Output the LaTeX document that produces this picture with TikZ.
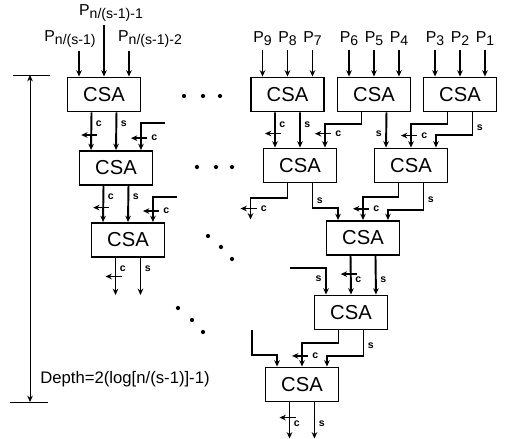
\documentclass[tikz,border=0pt]{standalone}
\usepackage{fontspec}
\setmainfont{Liberation Sans}
\usetikzlibrary{arrows.meta, positioning, calc}

\newcommand{\psub}[1]{\raisebox{-0.35ex}{\fontsize{8}{8}\selectfont #1}}

\begin{document}
\begin{tikzpicture}[
    x=0.02cm, y=-0.02cm,
    >={Stealth[length=3.6pt,width=3.2pt]},
    csa/.style={rectangle, draw, line width=1.1pt, minimum width=1.46cm, minimum height=0.68cm, inner sep=0pt, font=\fontsize{11.5}{12}\selectfont},
    arrow/.style={line width=1.1pt,->},
    carry/.style={line width=0.9pt,->},
    dim/.style={line width=0.5pt,<->},
    lbl/.style={font=\bfseries\fontsize{6}{6}\selectfont, inner sep=0pt},
    plabel/.style={font=\fontsize{9}{9}\selectfont, inner sep=2pt}
]
\useasboundingbox (0,0) rectangle (508,439);

% left column
\node [csa] (l1) at (104,94.5) {CSA};
\node [csa] (l2) at (116,168) {CSA};
\node [csa] (l3) at (128,240) {CSA};
% right tree
\node [csa] (r1a) at (287.5,94.5) {CSA};
\node [csa] (r1b) at (374,94.5) {CSA};
\node [csa] (r1c) at (460,94.5) {CSA};
\node [csa] (r2a) at (300,165.5) {CSA};
\node [csa] (r2b) at (411,165.5) {CSA};
\node [csa] (r3) at (363,238) {CSA};
\node [csa] (r4) at (351,312.5) {CSA};
\node [csa] (r5) at (302,384.5) {CSA};

\foreach \b in {l1,l2,l3,r1a,r1b,r1c,r2a,r2b,r3,r4,r5}{
    \coordinate (\b-i1) at ($(\b.north west)!1/6!(\b.north east)$);
    \coordinate (\b-i2) at (\b.north);
    \coordinate (\b-i3) at ($(\b.north west)!5/6!(\b.north east)$);
    \coordinate (\b-o1) at ($(\b.south west)!1/3!(\b.south east)$);
    \coordinate (\b-o2) at ($(\b.south west)!2/3!(\b.south east)$);
}

% inputs
\node [plabel] (pn) at (70,39) {P\psub{n/(s-1)}};
\node [plabel] (pn1) at (111,13) {P\psub{n/(s-1)-1}};
\node [plabel] (pn2) at (150,39) {P\psub{n/(s-1)-2}};
\draw [arrow] (pn.south -| l1-i1) -- (l1-i1);
\draw [arrow] (pn1.south -| l1-i2) -- (l1-i2);
\draw [arrow] (pn2.south -| l1-i3) -- (l1-i3);
\foreach \b/\n/\i in {r1a/9/1,r1a/8/2,r1a/7/3,r1b/6/1,r1b/5/2,r1b/4/3,r1c/3/1,r1c/2/2,r1c/1/3}{
    \node [plabel, anchor=south] (p\n) at ($(\b-i\i)+(0,-27)$) {P\psub{\n}};
    \draw [arrow] (p\n) -- (\b-i\i);
}

% free ends
\coordinate (f1) at (165,123);
\coordinate (f2) at (177,197);
\coordinate (f3) at (290,268);
\coordinate (f4) at (252,330);
\coordinate (l3-c) at ($(l3-o1)+(0,37)$);
\coordinate (l3-s) at ($(l3-o2)+(0,37)$);
\coordinate (r2a-c) at ($(r2a-o1)+(-37,36)$);
\coordinate (r5-c) at ($(r5-o1)+(0,36)$);
\coordinate (r5-s) at ($(r5-o2)+(0,36)$);

% left column wiring
\draw [arrow] (l1-o1) -- node[lbl, pos=.3, right=2pt] {c} coordinate[pos=.6] (k1) (l2-i1);
\draw [arrow] (l1-o2) -- node[lbl, pos=.3, right=2pt] {s} (l2-i2);
\draw [arrow] (f1) -| coordinate[pos=.78] (k2) (l2-i3);
\draw [arrow] (l2-o1) -- node[lbl, pos=.3, right=2pt] {c} coordinate[pos=.6] (k3) (l3-i1);
\draw [arrow] (l2-o2) -- node[lbl, pos=.3, right=2pt] {s} (l3-i2);
\draw [arrow] (f2) -| coordinate[pos=.78] (k4) (l3-i3);
\draw [arrow] (l3-o1) -- node[lbl, pos=.3, right=2pt] {c} coordinate[pos=.5] (k5) (l3-c);
\draw [arrow] (l3-o2) -- node[lbl, pos=.3, right=2pt] {s} (l3-s);

% right tree wiring
\draw [arrow] (r1a-o1) -- node[lbl, pos=.35, right=2pt] {c} coordinate[pos=.6] (k6) (r2a-i1);
\draw [arrow] (r1a-o2) -- node[lbl, pos=.35, right=2pt] {s} (r2a-i2);
\draw [arrow] (r1b-o1) -- ++(0,12) -| coordinate[pos=.7] (k7) (r2a-i3);
\draw [arrow] (r1b-o2) -- node[lbl, pos=.6, left=2pt] {s} (r2b-i1);
\draw [arrow] (r1c-o1) -- ++(0,12) -| coordinate[pos=.74] (k8) (r2b-i2);
\draw [arrow] (r1c-o2) -- node[lbl, pos=.65, right=2pt] {s} ++(0,23) -| (r2b-i3);

\draw [arrow] (r2a-o1) -- ++(0,15) -| coordinate[pos=.74] (k9) (r2a-c);
\draw [arrow] (r2a-o2) -- node[lbl, pos=.7, right=2pt] {s} ++(0,25) -| (r3-i1);
\draw [arrow] (r2b-o1) -- ++(0,14) -| coordinate[pos=.75] (k10) (r3-i2);
\draw [arrow] (r2b-o2) -- node[lbl, pos=.6, right=2pt] {s} ++(0,27) -| (r3-i3);

\draw [arrow] (r3-o1) -- node[lbl, pos=.62, right=2pt] {c} coordinate[pos=.47] (k11) (r4-i2);
\draw [arrow] (r3-o2) -- node[lbl, pos=.62, right=2pt] {s} (r4-i3);
\draw [arrow] (f3) -| node[lbl, pos=.7, left=2pt] {s} (r4-i1);

\draw [arrow] (r4-o1) -- ++(0,13) -| coordinate[pos=.77] (k12) (r5-i2);
\draw [arrow] (r4-o2) -- node[lbl, pos=.6, right=2pt] {s} ++(0,26) -| (r5-i3);
\draw [arrow] (f4) -- ++(0,25) -| (r5-i1);

\draw [arrow] (r5-o1) -- node[lbl, pos=.6, right=2pt] {c} coordinate[pos=.42] (k13) (r5-c);
\draw [arrow] (r5-o2) -- node[lbl, pos=.6, right=2pt] {s} (r5-s);

% carry ticks
\foreach \k in {k1,k3,k5,k6,k11,k13}
    \draw [carry] (\k) ++(6,0) -- ++(-16,0);
\foreach \k in {k2,k4,k7,k8,k9,k10,k12}
    \draw [carry] (\k) ++(6,0) node[lbl, right=2pt] {c} -- ++(-16,0);

% dots
\foreach \p in {(184,96),(203,96),(220,96),(197,167),(216,167),(232,167),
                (208,236),(221,247),(232,259),(178,308),(192,320),(203,332)}
    \fill \p circle (1.2pt);

% depth
\coordinate (dtop) at (30,75);
\coordinate (dbot) at (30,402);
\draw [line width=0.5pt] (dtop) ++(-17,0) -- ++(37,0);
\draw [line width=0.5pt] (dbot) ++(-20,0) -- ++(38,0);
\draw [dim] (dtop) -- (dbot);
\node [font=\fontsize{9.5}{10}\selectfont] (depth) at (125,379) {Depth=2(log[n/(s-1)]-1)};
\end{tikzpicture}
\end{document}
